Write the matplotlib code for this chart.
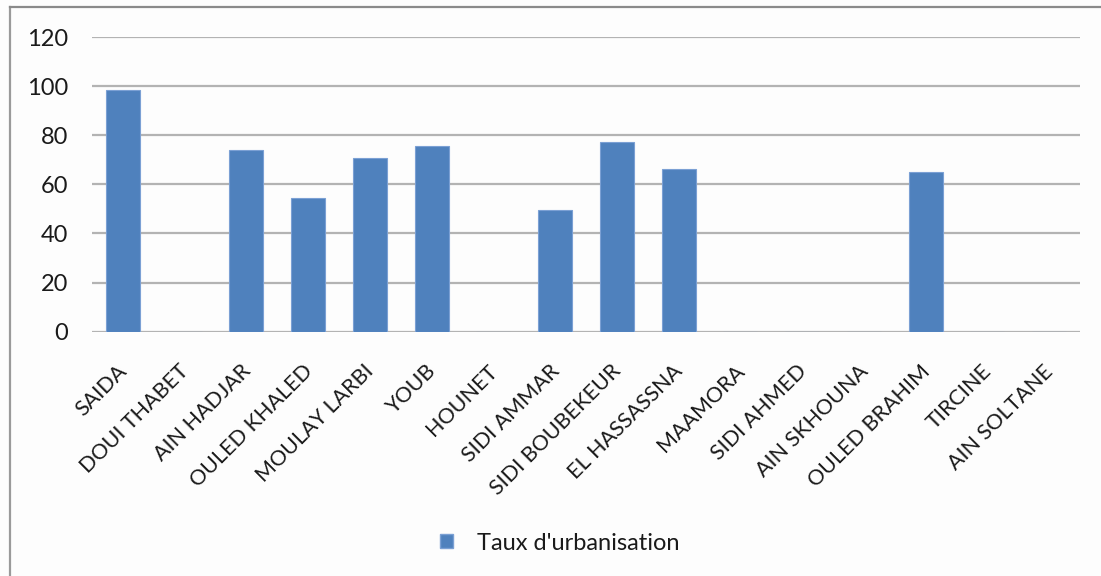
import matplotlib
matplotlib.use("Agg")
import matplotlib.pyplot as plt
from matplotlib.lines import Line2D
from matplotlib.patches import Patch
import matplotlib.transforms as mtransforms

communes = ["SAIDA", "DOUI THABET", "AIN HADJAR", "OULED KHALED", "MOULAY LARBI",
            "YOUB", "HOUNET", "SIDI AMMAR", "SIDI BOUBEKEUR", "EL HASSASSNA",
            "MAAMORA", "SIDI AHMED", "AIN SKHOUNA", "OULED BRAHIM", "TIRCINE",
            "AIN SOLTANE"]
taux = [98.5, 0, 74.1, 54.6, 70.6, 75.7, 0, 49.7, 77.4, 66.4, 0, 0, 0, 65.2, 0, 0]
y_ticks = [0, 20, 40, 60, 80, 100, 120]
series_name = "Taux d'urbanisation"

plt.rcParams['font.family'] = ['Lato', 'DejaVu Sans']

fig = plt.figure(figsize=(11.01, 5.76), dpi=100)
fig.patch.set_facecolor("#fdfdfd")

ax = fig.add_axes([92 / 1101, 1 - 331.7 / 576, (1080 - 92) / 1101, (331.7 - 37) / 576])
ax.set_facecolor("#fdfdfd")

x = list(range(len(communes)))
ax.bar(x, taux, width=0.55, color="#4f81bd", edgecolor="#7ba0d4", linewidth=0.8, zorder=3)

ax.set_xlim(-0.5, len(communes) - 0.5)
ax.set_ylim(0, 120)
ax.set_yticks(y_ticks)
ax.set_yticklabels([str(v) for v in y_ticks], fontsize=17, color="#1a1a1a")
ax.yaxis.grid(True, color="#b3b3b3", linewidth=1.6, zorder=0)
ax.tick_params(axis="y", length=0, pad=17)
ax.tick_params(axis="x", length=0, pad=4)
for s in ax.spines.values():
    s.set_visible(False)

ax.set_xticks(x)
labels = ax.set_xticklabels(communes, rotation=45, ha="right", va="top",
                            rotation_mode="anchor", fontsize=15.5, color="#1a1a1a")
shift = mtransforms.ScaledTranslation(-6 / 100, -24 / 100, fig.dpi_scale_trans)
for lab in labels:
    lab.set_transform(lab.get_transform() + shift)

# outer chart frame (left and top edges)
fig.add_artist(Line2D([10 / 1101, 10 / 1101], [0, 1 - 7 / 576], transform=fig.transFigure,
                      color="#9a9a9a", linewidth=1.6))
fig.add_artist(Line2D([10 / 1101, 1], [1 - 7 / 576, 1 - 7 / 576], transform=fig.transFigure,
                      color="#8a8a8a", linewidth=1.6))

handle = Patch(facecolor="#4f81bd", edgecolor="#7ba0d4")
fig.legend([handle], [series_name], loc="center", bbox_to_anchor=(560 / 1101, 1 - 543 / 576),
           frameon=False, fontsize=17, handlelength=0.55, handleheight=0.55,
           handletextpad=1.0, labelcolor="#1a1a1a")

fig.savefig("out.png", dpi=100, facecolor=fig.get_facecolor())
